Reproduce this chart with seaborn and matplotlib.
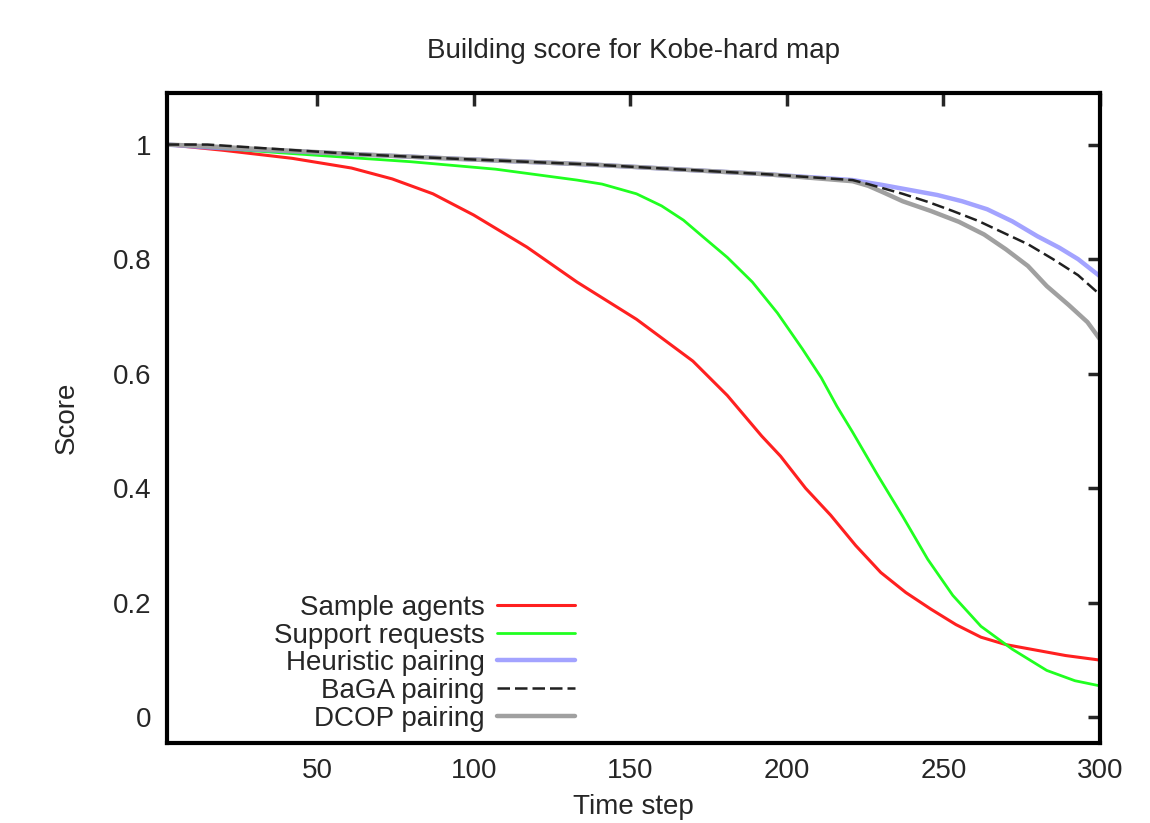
import numpy as np
import seaborn as sns
import matplotlib.pyplot as plt

# curves
t_sample = [2, 20, 42, 61, 74, 87, 100, 117, 133, 152, 170, 181, 192, 198, 206, 214, 222, 230, 238,
            246, 254, 262, 270, 278, 289, 300]
y_sample = [1.0, 0.99, 0.976, 0.959, 0.94, 0.914, 0.877, 0.821, 0.76, 0.695, 0.622, 0.562, 0.491,
            0.456, 0.40, 0.353, 0.30, 0.253, 0.218, 0.189, 0.162, 0.14, 0.127, 0.119, 0.108, 0.10]

t_support = [2, 40, 80, 107, 133, 141, 152, 160, 167, 173, 181, 189, 197, 205, 211, 216, 221, 229,
             237, 245, 253, 262, 272, 283, 292, 300]
y_support = [1.0, 0.985, 0.97, 0.957, 0.938, 0.931, 0.914, 0.893, 0.868, 0.84, 0.803, 0.76, 0.706,
             0.643, 0.593, 0.543, 0.498, 0.423, 0.351, 0.276, 0.213, 0.159, 0.119, 0.082, 0.064, 0.055]

t_heur = [2, 15, 63, 95, 138, 194, 221, 230, 240, 248, 256, 264, 272, 280, 287, 293, 300]
y_heur = [1.0, 0.995, 0.983, 0.975, 0.965, 0.948, 0.938, 0.93, 0.92, 0.912, 0.901, 0.887, 0.866,
          0.84, 0.82, 0.80, 0.77]

t_baga = [2, 15, 63, 95, 138, 194, 221, 226, 237, 245, 253, 261, 268, 277, 285, 293, 300]
y_baga = [1.0, 1.0, 0.983, 0.975, 0.965, 0.948, 0.938, 0.931, 0.914, 0.9, 0.884, 0.867, 0.849,
          0.826, 0.80, 0.772, 0.738]

t_dcop = [2, 15, 63, 95, 138, 194, 221, 226, 231, 237, 246, 255, 263, 270, 277, 283, 290, 296, 300]
y_dcop = [1.0, 0.997, 0.983, 0.975, 0.965, 0.948, 0.936, 0.928, 0.916, 0.901, 0.884, 0.865, 0.843,
          0.817, 0.788, 0.753, 0.72, 0.69, 0.66]

x_ticks = [50, 100, 150, 200, 250, 300]
y_ticks = [0, 0.2, 0.4, 0.6, 0.8, 1]
y_ticklabels = ['0', '0.2', '0.4', '0.6', '0.8', '1']

sns.set_style("white")
plt.rcParams['font.family'] = ['Liberation Sans', 'DejaVu Sans']

fig = plt.figure(figsize=(11.5, 8.23), dpi=100)
ax = fig.add_axes([0.145, 0.097, 0.8115, 0.79])

sns.lineplot(x=t_sample, y=y_sample, color='#ff2020', lw=2.2, label='Sample agents', ax=ax)
sns.lineplot(x=t_support, y=y_support, color='#20ff20', lw=2.0, label='Support requests', ax=ax)
sns.lineplot(x=t_heur, y=y_heur, color='#8c8cff', lw=3.2, alpha=0.8, label='Heuristic pairing', ax=ax)
sns.lineplot(x=t_dcop, y=y_dcop, color='#a0a0a0', lw=3.2, label='DCOP pairing', ax=ax)
sns.lineplot(x=t_baga, y=y_baga, color='#202020', lw=1.8, dashes=(5, 2), label='BaGA pairing', ax=ax)

ax.set_xlim(2, 300)
ax.set_ylim(-0.045, 1.09)
ax.set_xticks(x_ticks)
ax.set_yticks(y_ticks)
ax.set_yticklabels(y_ticklabels)
ax.tick_params(direction='in', length=9, width=2.5, top=True, right=True,
               labelsize=20, pad=11)
for s in ax.spines.values():
    s.set_visible(True)
    s.set_linewidth(3)
    s.set_color('black')

ax.set_title('Building score for Kobe-hard map', fontsize=20, pad=25)
ax.set_xlabel('Time step', fontsize=20, labelpad=7)
ax.set_ylabel('Score', fontsize=20, labelpad=24)

handles, labels = ax.get_legend_handles_labels()
order = ['Sample agents', 'Support requests', 'Heuristic pairing', 'BaGA pairing', 'DCOP pairing']
hmap = dict(zip(labels, handles))
ax.legend([hmap[k] for k in order], order, loc='lower right', bbox_to_anchor=(0.458, -0.012),
          frameon=False, markerfirst=False, fontsize=20, handlelength=2.8,
          labelspacing=0.06, handletextpad=0.45, borderpad=0.2)

fig.savefig('out.png', dpi=100)
